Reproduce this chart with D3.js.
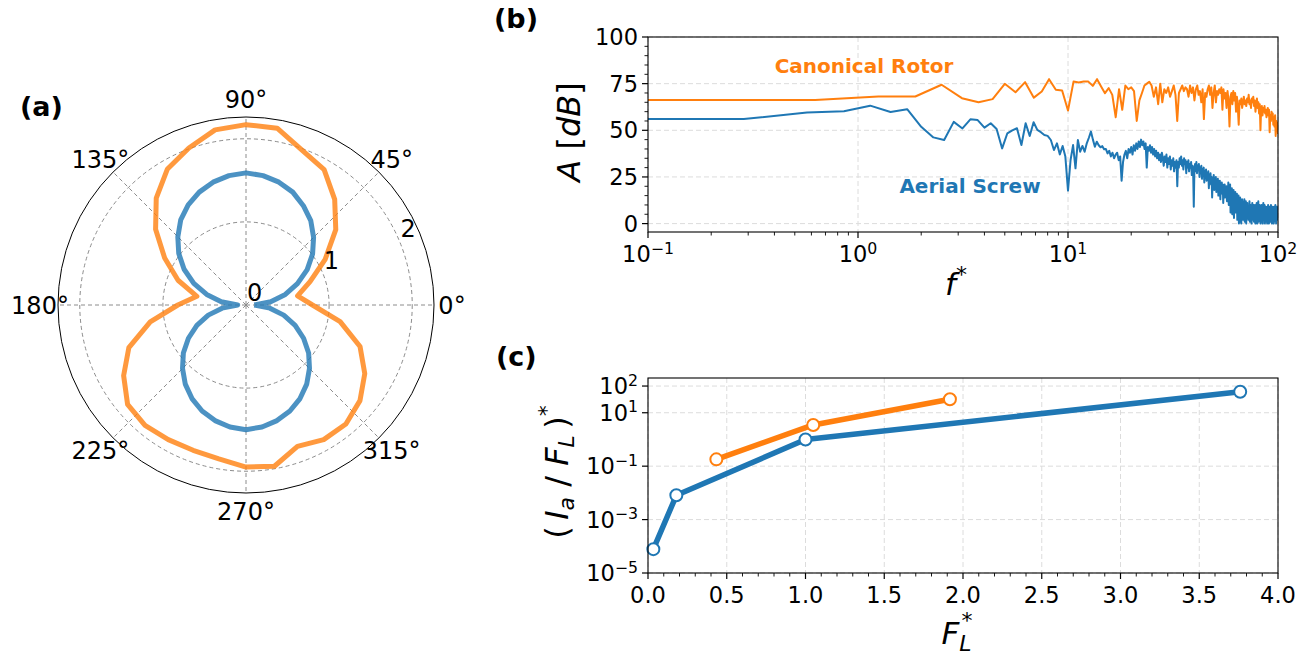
<!DOCTYPE html>
<html>
<head>
<meta charset="utf-8">
<script src="https://cdn.jsdelivr.net/npm/d3@7"></script>
<style>
  body { margin: 0; background: #fff; }
  svg { display: block; font-family: "DejaVu Sans", sans-serif; }
</style>
</head>
<body>
<svg id="fig" width="1313" height="658"></svg>
<script>
// ---- (a) polar directivity ----
const blueTheta = [0, 7.5, 15, 22.5, 30, 37.5, 45, 52.5, 60, 67.5, 75, 82.5, 90, 97.5, 105, 112.5, 120, 127.5, 135, 142.5, 150, 157.5, 165, 172.5,
  180, 187.5, 195, 202.5, 210, 217.5, 225, 232.5, 240, 247.5, 255, 262.5, 270, 277.5, 285, 292.5, 300, 307.5, 315, 322.5, 330, 337.5, 345, 352.5, 360];
const blueR = [0.10, 0.30, 0.49, 0.67, 0.85, 1.01, 1.15, 1.28, 1.38, 1.47, 1.53, 1.57, 1.59, 1.57, 1.53, 1.47, 1.39, 1.29, 1.16, 1.02, 0.86, 0.68, 0.49, 0.30,
  0.10, 0.29, 0.47, 0.64, 0.80, 0.95, 1.08, 1.20, 1.30, 1.38, 1.44, 1.48, 1.50, 1.48, 1.44, 1.38, 1.30, 1.20, 1.08, 0.95, 0.80, 0.64, 0.47, 0.29, 0.10];
const orangeTheta = [0, 10, 20, 30, 40, 50, 60, 70, 80, 90, 100, 110, 120, 130, 140, 150, 160, 170,
  180, 190, 200, 210, 220, 230, 240, 250, 260, 270, 280, 290, 300, 310, 320, 330, 340, 350, 360];
const orangeR = [0.80, 0.63, 0.82, 1.10, 1.41, 1.66, 1.88, 1.98, 2.16, 2.17, 2.14, 2.01, 1.89, 1.68, 1.42, 1.13, 0.87, 0.60,
  0.82, 1.17, 1.50, 1.70, 1.86, 1.89, 1.87, 1.86, 1.88, 1.95, 1.97, 1.81, 1.87, 1.87, 1.79, 1.65, 1.46, 1.15, 0.80];
const radialTicks = [1, 2];
const radialLabels = [0, 1, 2];
const angleTicks = [0, 45, 90, 135, 180, 225, 270, 315];

// ---- (b) spectra ----
const blueDf = 2 / 7;      // spacing of the aerial screw spectrum
const orangeDf = 0.625;    // spacing of the canonical rotor spectrum
const blueAmp = [
  56.0, 56.0, 59.5, 60.2, 63.2, 59.8, 61.3, 51.9, 46.2, 44.8,
  54.5, 51.0, 55.9, 55.5, 51.4, 53.8, 50.7, 40.3, 48.4, 50.0,
  51.1, 42.1, 53.8, 47.0, 54.3, 50.2, 49.0, 47.5, 47.0, 44.8,
  39.4, 43.0, 37.1, 41.6, 35.9, 17.7, 34.1, 42.1, 29.6, 44.8,
  38.5, 41.6, 38.5, 43.0, 46.0, 49.3, 45.0, 41.2, 43.9, 42.0,
  40.9, 41.5, 39.8, 40.0, 37.6, 39, 36, 38, 35, 37,
  38, 34, 36, 23, 33, 37, 39, 35, 40, 38,
  41, 37, 42, 39, 43, 40, 44, 41, 45, 42,
  44, 40, 43, 30, 41, 39, 42, 38, 41, 37,
  40, 36, 39, 35, 38, 34, 37, 33, 38, 35,
  31, 36, 33, 37, 30, 35, 32, 36, 29, 34,
  31, 35, 28, 33, 30, 34, 20, 33, 30, 35,
  32, 36, 31, 34, 29, 35, 32, 34, 27, 33,
  30, 34, 28, 32, 30, 33, 26, 31, 29, 9,
  30, 32, 28, 33, 27, 31, 29, 32, 25, 30,
  28, 31, 24, 29, 27, 30, 22, 28, 26, 29,
  23, 27, 25, 28, 19, 26, 24, 27, 21, 25,
  14, 24, 22, 26, 18, 23, 21, 25, 17, 22,
  20, 24, 15, 21, 19, 23, 13, 20, 18, 22,
  16, 21, 11, 19, 17, 21, 14, 19, 16, 20,
  12, 20, 15, 22, 10, 18, 14, 21, 6, 17,
  13, 19, 5, 16, 11, 18, 3, 15, 9, 17,
  6, 14, 11, 16, 2, 13, 8, 15, 0, 12,
  7, 14, 1, 11, 0, 10, 13, 5, 12, 2,
  10, 6, 13, 1, 9, 4, 12, 0, 8, 5,
  11, 3, 9, 2, 8, 4, 12, 1, 7, 10,
  3, 8, 0, 7, 11, 2, 9, 4, 10, 1,
  7, 3, 10, 0, 6, 9, 2, 11, 5, 0,
  8, 3, 12, 1, 7, 4, 10, 2, 9, 0,
  6, 3, 10, 1, 8, 5, 0, 7, 11, 2,
  8, 3, 10, 0, 6, 4, 9, 1, 8, 3,
  7, 0, 9, 4, 10, 2, 7, 0, 8, 3,
  9, 1, 6, 4, 10, 2, 8, 0, 6, 3,
  9, 1, 8, 4, 0, 7, 9, 2, 8, 3,
  10, 1, 6, 0, 8, 4, 9, 2, 6, 8, 5
];
const orangeAmp = [
  66.3, 66.3, 68.1, 68.1, 74.4, 67.2, 65.0, 66.7, 74.9, 70.4,
  75.8, 67.5, 70.8, 77.4, 71.7, 71.3, 60.6, 76.1, 75.6, 76.1,
  76.1, 73.8, 77.4, 73.5, 69.9, 72.6, 69, 57, 72, 61,
  74, 72, 73, 71, 55, 66, 70, 74, 75, 76,
  74, 68, 73, 64, 75, 65, 72, 70, 73, 68,
  71, 74, 69, 55, 70, 72, 74, 71, 73, 72,
  68, 74, 70, 73, 66, 72, 74, 69, 71, 65,
  72, 56, 70, 68, 72, 74, 69, 73, 62, 70,
  74, 65, 71, 69, 72, 70, 73, 61, 72, 67,
  70, 62, 71, 66, 52, 68, 70, 64, 71, 66,
  70, 60, 68, 62, 53, 66, 64, 67, 62, 65,
  68, 64, 66, 63, 67, 65, 69, 64, 66, 62,
  67, 65, 68, 63, 66, 60, 64, 67, 62, 65,
  59, 64, 50, 62, 63, 58, 62, 60, 63, 59,
  61, 57, 60, 62, 58, 61, 49, 58, 55, 60,
  56, 59, 53, 57, 52, 58, 47, 55, 50, 54, 48
];
const bYTicks = [0, 25, 50, 75, 100];
const bXTicks = [0.1, 1, 10, 100];
const bXExp = ["\u22121", "0", "1", "2"];

// ---- (c) impulse vs lift ----
const blueFL = [0.034, 0.18, 1.0, 3.76];
const blueIa = [7.8e-5, 8.1e-3, 1.0, 61];
const orangeFL = [0.434, 1.049, 1.917];
const orangeIa = [0.18, 3.5, 32];
const cYTicks = [1e-5, 1e-3, 1e-1, 1e1, 1e2];
const cYExp = ["\u22125", "\u22123", "\u22121", "1", "2"];
const cXTicks = [0, 0.5, 1, 1.5, 2, 2.5, 3, 3.5, 4];

const BLUE = "#1f77b4", ORANGE = "#ff7f0e";
const TICK_FS = 22.5, MID = 0.36;

const svg = d3.select("#fig");
svg.append("rect").attr("width", 1313).attr("height", 658).attr("fill", "#fff");

// ================= (a) =================
const cx = 246, cy = 305, R = 188;
const rScale = d3.scaleLinear().domain([0, 2.262]).range([0, R]);
const pa = svg.append("g").attr("transform", `translate(${cx},${cy})`);
const rad = t => (90 - t) * Math.PI / 180;   // d3 radial angle

pa.selectAll("circle.ring").data(radialTicks).enter().append("circle")
  .attr("r", d => rScale(d)).attr("fill", "none")
  .attr("stroke", "#8c8c8c").attr("stroke-width", 1).attr("stroke-dasharray", "4,3");
pa.selectAll("line.spoke").data(angleTicks).enter().append("line")
  .attr("x1", 0).attr("y1", 0)
  .attr("x2", d => R * Math.cos(d * Math.PI / 180))
  .attr("y2", d => -R * Math.sin(d * Math.PI / 180))
  .attr("stroke", "#8c8c8c").attr("stroke-width", 1).attr("stroke-dasharray", "4,3");

const radial = d3.lineRadial();
pa.append("path")
  .attr("d", radial(blueTheta.map((t, i) => [rad(t), rScale(blueR[i])])))
  .attr("fill", "none").attr("stroke", BLUE).attr("stroke-opacity", 0.8)
  .attr("stroke-width", 5).attr("stroke-linejoin", "round");
pa.append("path")
  .attr("d", radial(orangeTheta.map((t, i) => [rad(t), rScale(orangeR[i])])))
  .attr("fill", "none").attr("stroke", ORANGE).attr("stroke-opacity", 0.8)
  .attr("stroke-width", 5).attr("stroke-linejoin", "round");

pa.append("circle").attr("r", R).attr("fill", "none").attr("stroke", "#000").attr("stroke-width", 1);

pa.selectAll("text.ang").data(angleTicks).enter().append("text")
  .attr("x", d => 206 * Math.cos(d * Math.PI / 180))
  .attr("y", d => -206 * Math.sin(d * Math.PI / 180) + 0.36 * 24)
  .attr("text-anchor", "middle").attr("font-size", 24)
  .text(d => d + "\u00b0");

pa.selectAll("text.rl").data(radialLabels).enter().append("text")
  .attr("x", d => rScale(d) * Math.cos(22.5 * Math.PI / 180) + 1)
  .attr("y", d => -rScale(d) * Math.sin(22.5 * Math.PI / 180) - 4)
  .attr("font-size", 24)
  .text(d => d);

// ================= (b) =================
const L = 648, Rt = 1278;
const xB = d3.scaleLog().domain([0.1, 100]).range([L, Rt]);
const yB = d3.scaleLinear().domain([-4.5, 100]).range([232, 37]);
const pb = svg.append("g");

svg.append("defs").append("clipPath").attr("id", "clipB")
  .append("rect").attr("x", L).attr("y", 37).attr("width", Rt - L).attr("height", 195);

const gridStyle = s => s.attr("stroke", "#dcdcdc").attr("stroke-width", 1).attr("stroke-dasharray", "5,3");
pb.selectAll("line.gx").data(bXTicks).enter().append("line")
  .attr("x1", d => xB(d)).attr("x2", d => xB(d)).attr("y1", 37).attr("y2", 232).call(gridStyle);
pb.selectAll("line.gy").data(bYTicks).enter().append("line")
  .attr("x1", L).attr("x2", Rt).attr("y1", d => yB(d)).attr("y2", d => yB(d)).call(gridStyle);

const specLine = (df) => d3.line()
  .x((d, i) => xB(Math.max(i * df, 1e-3)))
  .y(d => yB(d));
const lines = pb.append("g").attr("clip-path", "url(#clipB)");
lines.append("path").attr("d", specLine(blueDf)(blueAmp))
  .attr("fill", "none").attr("stroke", BLUE).attr("stroke-width", 2).attr("stroke-linejoin", "round");
lines.append("path").attr("d", specLine(orangeDf)(orangeAmp))
  .attr("fill", "none").attr("stroke", ORANGE).attr("stroke-width", 2).attr("stroke-linejoin", "round");

pb.append("rect").attr("x", L).attr("y", 37).attr("width", Rt - L).attr("height", 195)
  .attr("fill", "none").attr("stroke", "#000").attr("stroke-width", 1.1);

// ticks
const minorB = [];
[0.1, 1, 10].forEach(dec => { for (let m = 2; m <= 9; m++) minorB.push(dec * m); });
pb.selectAll("line.mxt").data(minorB).enter().append("line")
  .attr("x1", d => xB(d)).attr("x2", d => xB(d)).attr("y1", 232).attr("y2", 235.5)
  .attr("stroke", "#000").attr("stroke-width", 0.9);
pb.selectAll("line.xt").data(bXTicks).enter().append("line")
  .attr("x1", d => xB(d)).attr("x2", d => xB(d)).attr("y1", 232).attr("y2", 238)
  .attr("stroke", "#000").attr("stroke-width", 1.2);
const minorBY = d3.range(0, 101, 5).filter(v => v % 25 !== 0);
pb.selectAll("line.myt").data(minorBY).enter().append("line")
  .attr("x1", L - 3.5).attr("x2", L).attr("y1", d => yB(d)).attr("y2", d => yB(d))
  .attr("stroke", "#000").attr("stroke-width", 0.9);
pb.selectAll("line.yt").data(bYTicks).enter().append("line")
  .attr("x1", L - 6).attr("x2", L).attr("y1", d => yB(d)).attr("y2", d => yB(d))
  .attr("stroke", "#000").attr("stroke-width", 1.2);

pb.selectAll("text.yl").data(bYTicks).enter().append("text")
  .attr("x", L - 10).attr("y", d => yB(d) + MID * TICK_FS)
  .attr("text-anchor", "end").attr("font-size", TICK_FS).text(d => d);

function powLabel(g, x, y, exp, anchor) {
  const t = g.append("text").attr("x", x).attr("y", y)
    .attr("text-anchor", anchor).attr("font-size", TICK_FS);
  t.append("tspan").text("10");
  t.append("tspan").attr("font-size", TICK_FS * 0.7).attr("dy", -8.5).text(exp);
}
bXTicks.forEach((v, i) => powLabel(pb, xB(v), 262, bXExp[i], "middle"));

// series annotations
pb.append("text").attr("x", 864).attr("y", 73).attr("text-anchor", "middle")
  .attr("font-size", 20).attr("font-weight", "bold").attr("fill", ORANGE).text("Canonical Rotor");
pb.append("text").attr("x", 970).attr("y", 193).attr("text-anchor", "middle")
  .attr("font-size", 20).attr("font-weight", "bold").attr("fill", BLUE).text("Aerial Screw");

// axis labels
const yLabB = pb.append("text").attr("transform", "translate(580,132) rotate(-90)")
  .attr("text-anchor", "middle").attr("font-size", 32);
yLabB.append("tspan").attr("font-style", "italic").text("A");
yLabB.append("tspan").text(" [");
yLabB.append("tspan").attr("font-style", "italic").text("dB");
yLabB.append("tspan").text("]");

const xLabB = pb.append("text").attr("x", 956).attr("y", 295).attr("text-anchor", "middle").attr("font-size", 31);
xLabB.append("tspan").attr("font-style", "italic").text("f");
xLabB.append("tspan").attr("font-size", 22).attr("dy", -13).text("*");

// ================= (c) =================
const xC = d3.scaleLinear().domain([0, 4]).range([L, Rt]);
const yC = d3.scaleLog().domain([1e-5, 2e2]).range([573, 378]);
const pc = svg.append("g");

pc.selectAll("line.gx").data(cXTicks).enter().append("line")
  .attr("x1", d => xC(d)).attr("x2", d => xC(d)).attr("y1", 378).attr("y2", 573).call(gridStyle);
pc.selectAll("line.gy").data(cYTicks).enter().append("line")
  .attr("x1", L).attr("x2", Rt).attr("y1", d => yC(d)).attr("y2", d => yC(d)).call(gridStyle);

const lineC = d3.line().x(d => xC(d[0])).y(d => yC(d[1]));
const blueC = blueFL.map((v, i) => [v, blueIa[i]]);
const orangeC = orangeFL.map((v, i) => [v, orangeIa[i]]);
[[blueC, BLUE], [orangeC, ORANGE]].forEach(([pts, col]) => {
  pc.append("path").attr("d", lineC(pts)).attr("fill", "none")
    .attr("stroke", col).attr("stroke-width", 5.5).attr("stroke-linejoin", "round");
  pc.selectAll(null).data(pts).enter().append("circle")
    .attr("cx", d => xC(d[0])).attr("cy", d => yC(d[1])).attr("r", 6)
    .attr("fill", "#fff").attr("stroke", col).attr("stroke-width", 2);
});

pc.append("rect").attr("x", L).attr("y", 378).attr("width", Rt - L).attr("height", 195)
  .attr("fill", "none").attr("stroke", "#000").attr("stroke-width", 1.1);

const minorC = d3.range(0, 40.5, 1).map(v => v / 10).filter(v => Math.round(v * 10) % 5 !== 0);
pc.selectAll("line.mxt").data(minorC).enter().append("line")
  .attr("x1", d => xC(d)).attr("x2", d => xC(d)).attr("y1", 573).attr("y2", 576.5)
  .attr("stroke", "#000").attr("stroke-width", 0.9);
pc.selectAll("line.xt").data(cXTicks).enter().append("line")
  .attr("x1", d => xC(d)).attr("x2", d => xC(d)).attr("y1", 573).attr("y2", 579)
  .attr("stroke", "#000").attr("stroke-width", 1.2);
pc.selectAll("line.yt").data(cYTicks).enter().append("line")
  .attr("x1", L - 6).attr("x2", L).attr("y1", d => yC(d)).attr("y2", d => yC(d))
  .attr("stroke", "#000").attr("stroke-width", 1.2);

pc.selectAll("text.xl").data(cXTicks).enter().append("text")
  .attr("x", d => xC(d)).attr("y", 603).attr("text-anchor", "middle")
  .attr("font-size", TICK_FS).text(d => d.toFixed(1));
cYTicks.forEach((v, i) => powLabel(pc, L - 10, yC(v) + MID * TICK_FS, cYExp[i], "end"));

const yLabC = pc.append("text").attr("transform", "translate(568,472) rotate(-90)")
  .attr("text-anchor", "middle").attr("font-size", 32);
yLabC.append("tspan").text("(\u2009");
yLabC.append("tspan").attr("font-style", "italic").text("I");
yLabC.append("tspan").attr("font-style", "italic").attr("font-size", 22).attr("dy", 6).text("a");
yLabC.append("tspan").attr("dy", -6).text(" / ");
yLabC.append("tspan").attr("font-style", "italic").text("F");
yLabC.append("tspan").attr("font-style", "italic").attr("font-size", 22).attr("dy", 6).text("L");
yLabC.append("tspan").attr("dy", -6).text("\u2009)");
yLabC.append("tspan").attr("font-size", 22).attr("dy", -14).text("*");

const xLabC = pc.append("text").attr("x", 957).attr("y", 644).attr("text-anchor", "middle").attr("font-size", 31);
xLabC.append("tspan").attr("font-style", "italic").text("F");
xLabC.append("tspan").attr("font-style", "italic").attr("font-size", 22).attr("dy", 7).text("L");
xLabC.append("tspan").attr("font-size", 22).attr("dx", -10).attr("dy", -23).text("*");

// ---- panel letters ----
[["(a)", 20, 116], ["(b)", 494, 28], ["(c)", 496, 366]].forEach(([t, x, y]) => {
  svg.append("text").attr("x", x).attr("y", y).attr("font-size", 27)
    .attr("font-weight", "bold").text(t);
});
</script>
</body>
</html>
